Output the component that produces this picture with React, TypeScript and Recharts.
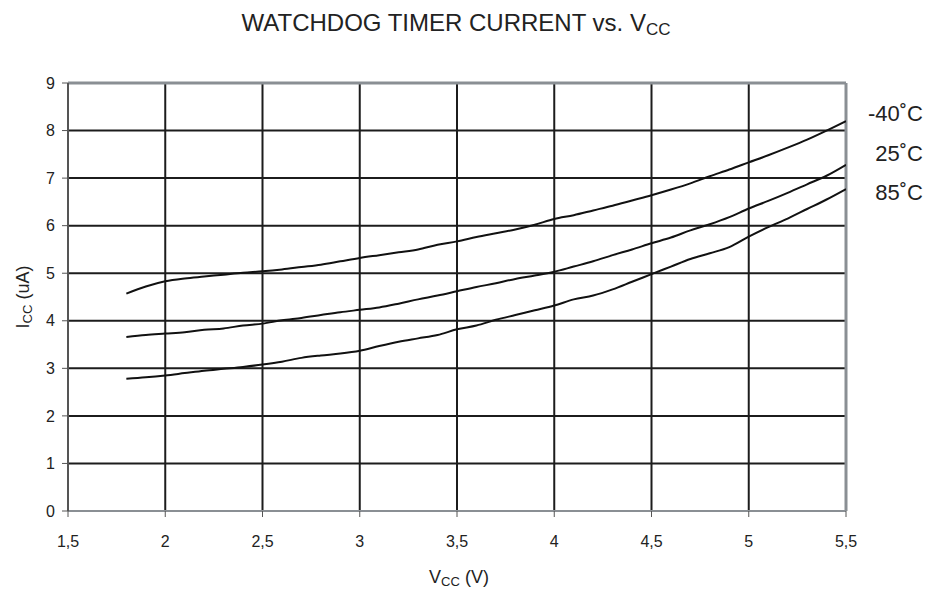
import React from 'react';
import { LineChart, Line, XAxis, YAxis, ReferenceLine } from 'recharts';

const VCC = [1.8, 1.9, 2.0, 2.1, 2.2, 2.3, 2.4, 2.5, 2.6, 2.7, 2.8, 2.9, 3.0, 3.1, 3.2, 3.3, 3.4, 3.5, 3.6, 3.7, 3.8, 3.9, 4.0, 4.1, 4.2, 4.3, 4.4, 4.5, 4.6, 4.7, 4.8, 4.9, 5.0, 5.1, 5.2, 5.3, 5.4, 5.5];

const ICC_M40 = [4.57, 4.72, 4.83, 4.89, 4.93, 4.97, 5.01, 5.04, 5.08, 5.13, 5.18, 5.25, 5.32, 5.38, 5.44, 5.5, 5.6, 5.67, 5.76, 5.84, 5.92, 6.02, 6.14, 6.22, 6.32, 6.42, 6.53, 6.64, 6.76, 6.89, 7.04, 7.18, 7.33, 7.48, 7.64, 7.81, 8.0, 8.2];
const ICC_25 = [3.66, 3.7, 3.73, 3.76, 3.81, 3.84, 3.9, 3.94, 4.01, 4.06, 4.12, 4.18, 4.23, 4.28, 4.36, 4.45, 4.53, 4.62, 4.71, 4.79, 4.88, 4.95, 5.03, 5.14, 5.25, 5.38, 5.5, 5.63, 5.75, 5.9, 6.03, 6.18, 6.36, 6.52, 6.69, 6.87, 7.05, 7.28];
const ICC_85 = [2.78, 2.81, 2.85, 2.9, 2.95, 2.99, 3.03, 3.08, 3.14, 3.22, 3.27, 3.31, 3.37, 3.47, 3.56, 3.63, 3.7, 3.82, 3.9, 4.02, 4.12, 4.22, 4.32, 4.45, 4.53, 4.66, 4.82, 4.98, 5.14, 5.3, 5.42, 5.55, 5.77, 5.97, 6.15, 6.35, 6.55, 6.77];

const X_TICKS = [1.5, 2, 2.5, 3, 3.5, 4, 4.5, 5, 5.5];
const Y_TICKS = [0, 1, 2, 3, 4, 5, 6, 7, 8, 9];
const SERIES_LABELS = ['-40˚C', '25˚C', '85˚C'];

const data = VCC.map((v, i) => ({ v, m40: ICC_M40[i], t25: ICC_25[i], t85: ICC_85[i] }));

const FONT = '"Liberation Sans", Arial, sans-serif';
const GRID = '#1c1c1c';
const EDGE = '#8a8f94';

export default function App() {
    const tickStyle = { fontSize: 16, fill: '#222', fontFamily: FONT };

    return (
        <div style={{ position: 'absolute', left: 0, top: 0, width: 930, height: 590, background: '#fff', fontFamily: FONT }}>
            <LineChart width={930} height={590} data={data} margin={{ top: 83, right: 84, bottom: 0, left: 0 }}>
                <XAxis
                    dataKey="v"
                    type="number"
                    domain={[1.5, 5.5]}
                    ticks={X_TICKS}
                    height={79}
                    tickSize={6}
                    tickMargin={19}
                    tickFormatter={(t: number) => String(t).replace('.', ',')}
                    axisLine={{ stroke: EDGE, strokeWidth: 2 }}
                    tickLine={{ stroke: '#555' }}
                    tick={tickStyle}
                    allowDataOverflow
                />
                <YAxis
                    type="number"
                    domain={[0, 9]}
                    ticks={Y_TICKS}
                    width={68}
                    tickSize={6}
                    tickMargin={7}
                    axisLine={{ stroke: '#555', strokeWidth: 2 }}
                    tickLine={{ stroke: '#555' }}
                    tick={tickStyle}
                    allowDataOverflow
                />
                {Y_TICKS.slice(1, -1).map(t => (
                    <ReferenceLine key={`h${t}`} y={t} stroke={GRID} strokeWidth={2} />
                ))}
                {X_TICKS.slice(1, -1).map(t => (
                    <ReferenceLine key={`v${t}`} x={t} stroke={GRID} strokeWidth={2} />
                ))}
                <ReferenceLine y={9} stroke={EDGE} strokeWidth={3} />
                <ReferenceLine x={5.5} stroke={EDGE} strokeWidth={3} />
                <Line dataKey="m40" type="monotone" stroke="#111" strokeWidth={2} dot={false} isAnimationActive={false} />
                <Line dataKey="t25" type="monotone" stroke="#111" strokeWidth={2} dot={false} isAnimationActive={false} />
                <Line dataKey="t85" type="monotone" stroke="#111" strokeWidth={2} dot={false} isAnimationActive={false} />
            </LineChart>
            <svg width={930} height={590} style={{ position: 'absolute', left: 0, top: 0, pointerEvents: 'none' }}>
                <text x={456} y={31} textAnchor="middle" fontSize={24} fill="#222" fontFamily={FONT}>
                    WATCHDOG TIMER CURRENT vs. V<tspan fontSize={17} dy={4}>CC</tspan>
                </text>
                <text x={459} y={583} textAnchor="middle" fontSize={18} fill="#222" fontFamily={FONT}>
                    V<tspan fontSize={13} dy={3}>CC</tspan><tspan dy={-3}> (V)</tspan>
                </text>
                <text transform="translate(29, 297) rotate(-90)" textAnchor="middle" fontSize={18} fill="#222" fontFamily={FONT}>
                    I<tspan fontSize={13} dy={3}>CC</tspan><tspan dy={-3}> (uA)</tspan>
                </text>
                {SERIES_LABELS.map((s, i) => (
                    <text key={s} x={923} y={121 + i * 39.5} textAnchor="end" fontSize={22} fill="#222" fontFamily={FONT}>{s}</text>
                ))}
            </svg>
        </div>
    );
}
